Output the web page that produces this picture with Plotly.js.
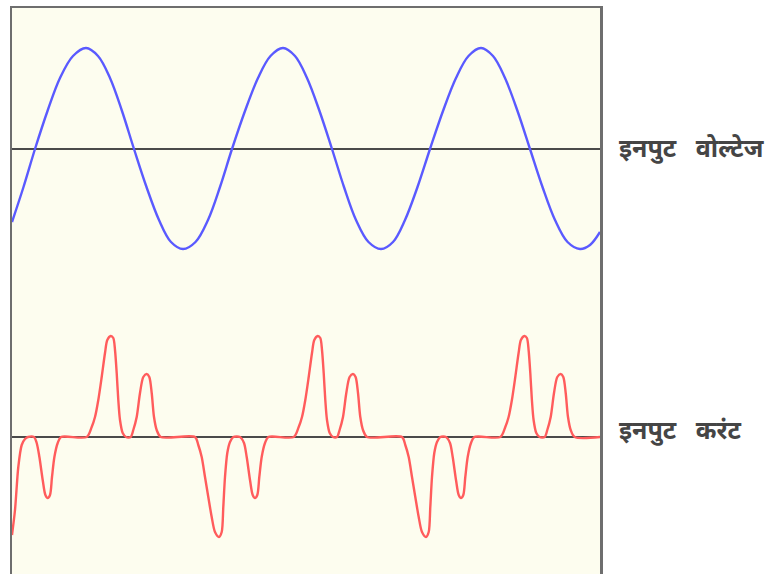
<!DOCTYPE html>
<html>
<head>
<meta charset="utf-8">
<script src="https://cdn.plot.ly/plotly-3.0.1.min.js"></script>
<style>
html,body{margin:0;padding:0;background:#fff;overflow:hidden;}
#chart{width:772px;height:574px;}
</style>
</head>
<body>
<div id="chart"></div>
<script>
// time axis (arbitrary units across the plotted window)
const voltageT = [0, 11.5, 23, 35.5, 48, 61, 74, 86, 98, 110, 122, 134.5, 147, 159, 171, 183.5, 196, 208,
  220, 233, 246, 258.5, 271, 283, 295, 307.5, 320, 332, 344, 356.5, 369, 381, 393, 405.5,
  418, 431, 444, 456.5, 469, 481, 493, 505.5, 518, 530.5, 543, 555.5, 568, 578, 588];
const voltageV = [-0.73, -0.38, 0, 0.38, 0.71, 0.93, 1.01, 0.93, 0.71, 0.38, 0, -0.38, -0.71, -0.93, -1.0, -0.93, -0.71, -0.38,
  0, 0.38, 0.71, 0.93, 1.01, 0.93, 0.71, 0.38, 0, -0.38, -0.71, -0.93, -1.0, -0.93, -0.71, -0.38,
  0, 0.38, 0.71, 0.93, 1.01, 0.93, 0.71, 0.38, 0, -0.38, -0.71, -0.93, -1.0, -0.96, -0.83];

const currentT = [
  0, 3, 6.3, 9.7, 13, 16,
  22, 24.7, 27.4, 30.7, 33.4, 35.7, 38, 40, 42.4, 45.7, 49,
  74.7, 79.7, 83, 86.3, 89.7, 93, 95.3, 98.7, 101.3, 103, 104.7, 106.3, 108, 110.7, 114,
  118.7, 121.3, 124.7, 128, 131.3, 134.7, 137.3, 139.7, 142, 144.7, 148.7,
  183, 186.3, 189.7, 193, 196.3, 199.7, 203, 207, 209.7, 211.3, 213, 215.3, 218, 221.3,
  228, 232, 234.7, 238, 240.7, 243, 245.3, 247.3, 249.7, 253, 256.3,
  281.7, 286.7, 290, 293.3, 296.7, 300, 302.3, 305.7, 308.3, 310, 311.7, 313.3, 315, 317.7, 321,
  325, 327.6, 331, 334.3, 337.6, 341, 343.6, 346, 348.3, 351, 355,
  390, 393.3, 396.7, 400, 403.3, 406.7, 410, 414, 416.7, 418.3, 420, 422.3, 425, 428.3,
  434, 438, 440.7, 444, 446.7, 449, 451.3, 453.3, 455.7, 459, 462.3,
  488.3, 493.3, 496.6, 499.9, 503.3, 506.6, 508.9, 512.3, 514.9, 516.6, 518.3, 519.9, 521.6, 524.3, 527.6,
  532.7, 535.3, 538.7, 542, 545.3, 548.7, 551.3, 553.7, 556, 558.7, 562.7,
  588
];
const currentI = [
  -0.98, -0.73, -0.30, -0.08, -0.02, 0,
  0, -0.06, -0.20, -0.43, -0.58, -0.61, -0.58, -0.40, -0.20, -0.06, 0,
  0, 0.10, 0.20, 0.37, 0.60, 0.84, 0.97, 1.01, 0.99, 0.87, 0.64, 0.37, 0.17, 0.04, 0,
  0, 0.07, 0.20, 0.44, 0.60, 0.63, 0.60, 0.44, 0.20, 0.07, 0,
  0, -0.08, -0.20, -0.40, -0.60, -0.80, -0.95, -1.00, -0.95, -0.70, -0.40, -0.16, -0.05, 0,
  0, -0.06, -0.20, -0.43, -0.58, -0.61, -0.58, -0.40, -0.20, -0.06, 0,
  0, 0.10, 0.20, 0.37, 0.60, 0.84, 0.97, 1.01, 0.99, 0.87, 0.64, 0.37, 0.17, 0.04, 0,
  0, 0.07, 0.20, 0.44, 0.60, 0.63, 0.60, 0.44, 0.20, 0.07, 0,
  0, -0.08, -0.20, -0.40, -0.60, -0.80, -0.95, -1.00, -0.95, -0.70, -0.40, -0.16, -0.05, 0,
  0, -0.06, -0.20, -0.43, -0.58, -0.61, -0.58, -0.40, -0.20, -0.06, 0,
  0, 0.10, 0.20, 0.37, 0.60, 0.84, 0.97, 1.01, 0.99, 0.87, 0.64, 0.37, 0.17, 0.04, 0,
  0, 0.07, 0.20, 0.44, 0.60, 0.63, 0.60, 0.44, 0.20, 0.07, 0,
  0
];

const labelVoltage = 'इनपुट\u00a0\u00a0\u00a0वोल्टेज';
const labelCurrent = 'इनपुट\u00a0\u00a0\u00a0करंट';

const traces = [
  {x: voltageT, y: voltageV, type: 'scatter', mode: 'lines', yaxis: 'y',
   line: {color: '#5a5aff', width: 2.4, shape: 'spline', smoothing: 1.0}, hoverinfo: 'skip'},
  {x: currentT, y: currentI, type: 'scatter', mode: 'lines', yaxis: 'y2',
   line: {color: '#ff5c5c', width: 2.4, shape: 'spline', smoothing: 0.8}, hoverinfo: 'skip'}
];

const labelFont = {family: 'Noto Sans, "Noto Sans Devanagari", sans-serif', size: 25, weight: 'bold', color: '#454545'};

const layout = {
  width: 772, height: 574,
  margin: {l: 12, r: 172, t: 8, b: 0, pad: 0},
  paper_bgcolor: '#ffffff',
  plot_bgcolor: '#fdfdef',
  showlegend: false,
  xaxis: {range: [0, 588], side: 'top', showline: true, linecolor: '#6e6e6e', linewidth: 2.5,
          mirror: false, showgrid: false, zeroline: false, showticklabels: false, ticks: ''},
  yaxis: {range: [-4.25, 1.41], showline: true, mirror: true, linecolor: '#6e6e6e', linewidth: 2.5,
          showgrid: false, zeroline: true, zerolinecolor: '#4a4a4a', zerolinewidth: 2,
          showticklabels: false, ticks: ''},
  yaxis2: {range: [-1.37, 4.29], overlaying: 'y', showline: false, showgrid: false,
           zeroline: true, zerolinecolor: '#4a4a4a', zerolinewidth: 2,
           showticklabels: false, ticks: ''},
  annotations: [
    {text: labelVoltage, xref: 'paper', yref: 'y', x: 1.029, y: 0, yshift: 2, xanchor: 'left', yanchor: 'middle',
     showarrow: false, font: labelFont},
    {text: labelCurrent, xref: 'paper', yref: 'y2', x: 1.029, y: 0, yshift: 8, xanchor: 'left', yanchor: 'middle',
     showarrow: false, font: labelFont}
  ]
};

Plotly.newPlot('chart', traces, layout, {displayModeBar: false, staticPlot: true});
</script>
</body>
</html>
